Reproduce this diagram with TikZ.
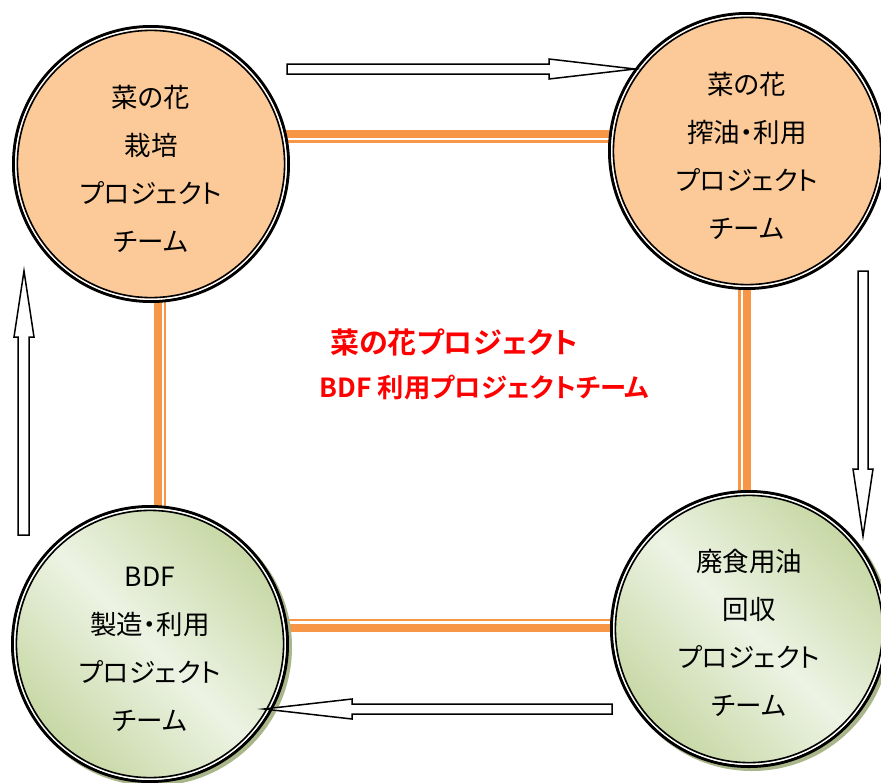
\documentclass[tikz,border=0pt]{standalone}
\usepackage{fontspec}
\newfontfamily\jp[RawFeature=+palt]{Noto Sans CJK JP}
\newfontfamily\jpb[RawFeature=+palt]{Noto Sans CJK JP Bold}
\definecolor{orfill}{RGB}{252,202,152}
\definecolor{linkor}{RGB}{247,150,70}
\definecolor{gdark}{RGB}{198,215,163}
\definecolor{glight}{RGB}{237,243,228}
\definecolor{gshadow}{RGB}{168,182,138}
\newcommand\myringlines[1]{%
  \draw[line width=3pt] (#1) circle[radius=137.5];
  \draw[white,line width=1.5pt] (#1) circle[radius=135.2];
  \draw[line width=1.6pt] (#1) circle[radius=133.6];
}
\begin{document}
\begin{tikzpicture}[x=1pt,y=-1pt,
  linkthick/.style={draw=linkor,line width=7.5pt},
  linkthin/.style={draw=linkor,line width=2.5pt},
  txt/.style={align=center,inner sep=0pt,font=\jp\fontsize{26.5}{48}\selectfont},
  redtxt/.style={inner sep=0pt,text=red,font=\jpb\fontsize{29}{34}\selectfont},
  redtxtb/.style={inner sep=0pt,text=red,font=\jpb\fontsize{26.3}{34}\selectfont},
  blockarrow/.style={draw=black,fill=white,line width=1.5pt,line join=miter}]
\useasboundingbox (0,0) rectangle (881,782);
\fill[white] (0,0) rectangle (881,782);
% circle centres
\coordinate (ctl) at (151,164);
\coordinate (ctr) at (747,151);
\coordinate (cbl) at (150,644);
\coordinate (cbr) at (749,629);
% orange links (thick-thin)
\coordinate (t1) at ([yshift=30]ctl);
\coordinate (t2) at ([yshift=22.5]ctl);
\draw[linkthick] (t1) -- (t1 -| ctr);
\draw[linkthin] (t2) -- (t2 -| ctr);
\coordinate (l1) at ([xshift=7]ctl);
\coordinate (l2) at ([xshift=14]ctl);
\draw[linkthick] (l1) -- (l1 |- cbl);
\draw[linkthin] (l2) -- (l2 |- cbl);
\coordinate (r2) at ([xshift=-7.5]ctr);
\draw[linkthick] (ctr) -- (ctr |- cbr);
\draw[linkthin] (r2) -- (r2 |- cbr);
\coordinate (b1) at ([yshift=16]cbl);
\coordinate (b2) at ([yshift=24]cbl);
\draw[linkthick] (b1) -- (b1 -| cbr);
\draw[linkthin] (b2) -- (b2 -| cbr);
% orange circles
\fill[orfill] (ctl) circle[radius=138];
\myringlines{ctl}
\fill[orfill] (ctr) circle[radius=138];
\myringlines{ctr}
% green circles with shadow
\fill[gshadow] ([xshift=3,yshift=-3]cbl) circle[radius=139];
\shade[top color=gdark,bottom color=gdark,middle color=glight,shading angle=-45] (cbl) circle[radius=138];
\myringlines{cbl}
\fill[gshadow] ([xshift=3,yshift=-3]cbr) circle[radius=139];
\shade[top color=gdark,bottom color=gdark,middle color=glight,shading angle=-45] (cbr) circle[radius=138];
\myringlines{cbr}
% texts
\node[txt] (tl) at ([yshift=-5]ctl) {菜の花\\栽培\\プロジェクト\\チーム};
\node[txt] (tr) at ([yshift=-5]ctr) {菜の花\\搾油・利用\\プロジェクト\\チーム};
\node[txt] (bl) at ([yshift=-5]cbl) {BDF\\製造・利用\\プロジェクト\\チーム};
\node[txt] (br) at ([yshift=-4]cbr) {廃食用油\\回収\\プロジェクト\\チーム};
\node[redtxt] (title1) at (454,342) {菜の花プロジェクト};
\node[redtxtb] (title2) at (484.5,388) {BDF 利用プロジェクトチーム};
% hollow block arrows
\draw[blockarrow] (287,64) -- (549,64) -- (549,59) -- (635,69) -- (549,79) -- (549,74) -- (287,74) -- cycle;
\draw[blockarrow] (858,271) -- (868,271) -- (868,469) -- (873,469) -- (863,536) -- (853,469) -- (858,469) -- cycle;
\draw[blockarrow] (612,704) -- (352,704) -- (352,699) -- (264,709) -- (352,719) -- (352,714) -- (612,714) -- cycle;
\draw[blockarrow] (18,535) -- (18,337) -- (14,337) -- (24,271) -- (34,337) -- (29,337) -- (29,535) -- cycle;
\end{tikzpicture}
\end{document}
